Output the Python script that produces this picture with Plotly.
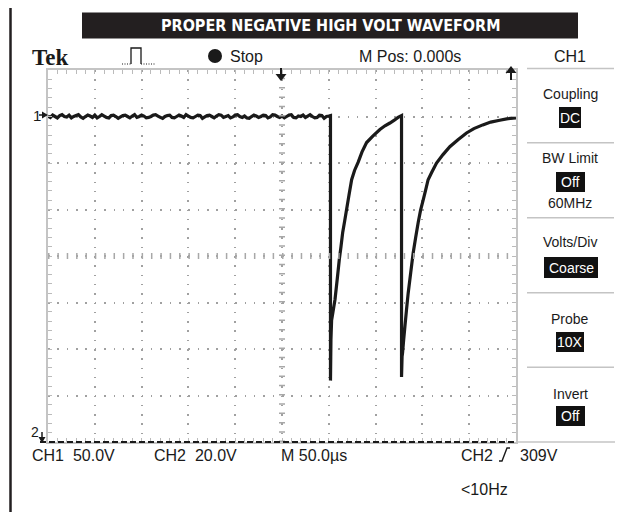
import plotly.graph_objects as go

# ---------------- data (time in µs, CH1 volts) ----------------
t_flat = [-250, -247.5, -245, -242.5, -240, -237.5, -235, -232.5, -230, -227.5,
          -225, -222.5, -220, -217.5, -215, -212.5, -210, -207.5, -205, -202.5,
          -200, -197.5, -195, -192.5, -190, -187.5, -185, -182.5, -180, -177.5,
          -175, -172.5, -170, -167.5, -165, -162.5, -160, -157.5, -155, -152.5,
          -150, -147.5, -145, -142.5, -140, -137.5, -135, -132.5, -130, -127.5,
          -125, -122.5, -120, -117.5, -115, -112.5, -110, -107.5, -105, -102.5,
          -100, -97.5, -95, -92.5, -90, -87.5, -85, -82.5, -80, -77.5,
          -75, -72.5, -70, -67.5, -65, -62.5, -60, -57.5, -55, -52.5,
          -50, -47.5, -45, -42.5, -40, -37.5, -35, -32.5, -30, -27.5,
          -25, -22.5, -20, -17.5, -15, -12.5, -10, -7.5, -5, -2.5,
          0, 2.5, 5, 7.5, 10, 12.5, 15, 17.5, 20, 22.5,
          25, 27.5, 30, 32.5, 35, 37.5, 40, 42.5, 45, 47.5, 50]
v_flat = [0.5, -1, 1.5, 0, -1.5, 1, 2, 0, -0.5, 1.5,
          -1.5, 0, 1, 2, -0.5, -2, 0, 1.5, 0.5, -1,
          1.5, -1.5, 0, 2, 0.5, -1, -1.5, 1, 1.5, 0,
          -2, -0.5, 1, 1.5, 0, -1.5, 0.5, 2, -1, 0,
          1.5, 0.5, -1.5, -1, 0, 1.5, 2, 0.5, -1, -2,
          0, 1, 1.5, -1, -1.5, 0, 1.5, 0.5, -1, 2,
          0.5, -1, -1.5, 0, 1.5, 1, -2, -0.5, 1, 1.5,
          0, -1.5, 0.5, 2, 1.5, -1, 0, 1, -1.5, -0.5,
          1.5, 2, 0, -1, 0.5, -1.5, -2, 0, 1.5, 0.5,
          -1, 0, 1.5, 1, -1.5, -0.5, 2, 1.5, 0, -1,
          0.5, -1.5, 0, 1.5, 2, -1, -1.5, 0.5, 0, 1.5,
          -1, 0.5, 2, 0, -1.5, -1, 1.5, 1, -2, 0, 0.5]
t_pulse = [51.8, 51.8, 52.3, 53.0, 54.5, 56.6, 59, 61.2, 63, 64.8, 67, 69, 71.5, 74.4,
           77.5, 81.4, 85.5, 90.4, 97, 104.6, 110, 115.3, 120, 124, 127.7,
           127.7, 128.3, 128.8, 130, 131.3, 133, 134.8, 137.5, 140.1, 142.8, 145.5,
           148, 150.8, 153.5, 156.1, 160, 165.1, 172, 179.3, 188, 197.1, 205,
           214.5, 223, 232.6, 240, 250]
v_pulse = [1, -284, -240, -219, -210, -197, -175, -154, -140, -125, -112, -100, -85, -68,
           -58, -49, -38, -28, -21, -14, -10, -7, -4, -1, 1,
           -280, -258, -254, -240, -226, -208, -190, -168, -147, -130, -114,
           -101, -90, -79, -68, -60, -50, -41, -32.5, -25, -17.7, -13,
           -9, -6, -4, -2.5, -1.5]

title_text = "PROPER NEGATIVE HIGH VOLT WAVEFORM"
top_labels = ["Tek", "Stop", "M Pos: 0.000s", "CH1"]
bottom_labels = ["CH1  50.0V", "CH2  20.0V", "M 50.0\u00b5s", "CH2", "309V", "<10Hz"]
menu_titles = ["Coupling", "BW Limit", "Volts/Div", "Probe", "Invert"]
menu_values = ["DC", "Off", "Coarse", "10X", "Off"]

# ---------------- geometry helpers (screen pixels; page body has 8px margin) ----------------
W, H = 644, 512
OFF = 8
SL, SR, ST, SB = 48, 516, 70, 442


def X(px):
    return (px - SL) / (SR - SL)


def Y(py):
    return (SB - py) / (SB - ST)


def path(points, close=True):
    s = "M " + " L ".join(f"{X(a):.5f},{Y(b):.5f}" for a, b in points)
    return s + (" Z" if close else "")


INK = "#1a1a1a"
SANS = "Liberation Sans, Arial, sans-serif"
NARROW = "Liberation Sans Narrow, DejaVu Sans Condensed, Arial Narrow, sans-serif"

fig = go.Figure()
fig.add_trace(go.Scatter(x=t_flat + t_pulse, y=v_flat + v_pulse, mode="lines",
                         line=dict(color=INK, width=3.2, simplify=False), hoverinfo="skip"))

axis_common = dict(showticklabels=False, zeroline=False, showline=True,
                   linecolor="#c4c4c4", linewidth=1.5, mirror="allticks",
                   ticks="inside", ticklen=4, tickcolor="#bbbbbb", tickwidth=1,
                   showgrid=True, gridcolor="#a0a0a0", gridwidth=1.5,
                   minor=dict(ticks="inside", ticklen=4, tickcolor="#bbbbbb",
                              tickwidth=1, showgrid=False))
fig.update_xaxes(range=[-250, 250], dtick=50, tick0=0, griddash="1.5px,7.8px",
                 **axis_common)
fig.update_xaxes(minor_dtick=10)
fig.update_yaxes(range=[-350, 50], dtick=50, tick0=0, griddash="1.5px,7.86px",
                 **axis_common)
fig.update_yaxes(minor_dtick=10)

shapes = []
# outer frame
shapes.append(dict(type="rect", xref="paper", yref="paper", x0=X(10.5), x1=X(660),
                   y0=Y(5.5), y1=Y(530), line=dict(color="#231f20", width=2.5)))
# title bar
shapes.append(dict(type="rect", xref="paper", yref="paper", x0=X(82), x1=X(578),
                   y0=Y(12.5), y1=Y(38.5), fillcolor="#231f20", line=dict(width=0)))
# center cross-hair tick lines
shapes.append(dict(type="line", xref="paper", yref="paper", x0=X(282), x1=X(282),
                   y0=0, y1=1, line=dict(color="#a8a8a8", width=6, dash="1.5px,7.8px")))
shapes.append(dict(type="line", xref="paper", yref="paper", x0=0, x1=1,
                   y0=Y(256), y1=Y(256), line=dict(color="#a8a8a8", width=6, dash="1.5px,7.86px")))
# bottom CH2 dashed baseline
shapes.append(dict(type="line", xref="paper", yref="paper", x0=X(40), x1=X(516),
                   y0=Y(442), y1=Y(442), line=dict(color=INK, width=2, dash="6px,3px")))
shapes.append(dict(type="line", xref="paper", yref="paper", x0=X(517), x1=X(615),
                   y0=Y(442), y1=Y(442), line=dict(color="#c4c4c4", width=1.5)))
# right menu separators
for sy in [68.5, 142.7, 217.7, 292.7, 367.3]:
    shapes.append(dict(type="line", xref="paper", yref="paper", x0=X(527), x1=X(614),
                       y0=Y(sy), y1=Y(sy), line=dict(color="#c4c4c4", width=1.5)))
# inverted menu value boxes
boxes = [(559, 107, 581, 128), (556, 172, 585, 192), (544, 257, 598, 278),
         (556, 332, 584, 352), (556, 406, 585, 426)]
for (x0, y0, x1, y1) in boxes:
    shapes.append(dict(type="rect", xref="paper", yref="paper", x0=X(x0), x1=X(x1),
                       y0=Y(y0), y1=Y(y1), fillcolor="#111111", line=dict(width=0)))
# trigger position arrow (down) at centre top
shapes.append(dict(type="line", xref="paper", yref="paper", x0=X(281), x1=X(281),
                   y0=Y(68), y1=Y(76), line=dict(color=INK, width=2)))
shapes.append(dict(type="path", xref="paper", yref="paper",
                   path=path([(275.5, 74), (286.5, 74), (281, 81)]),
                   fillcolor=INK, line=dict(width=0)))
# trigger level arrow (up) at right top
shapes.append(dict(type="line", xref="paper", yref="paper", x0=X(511), x1=X(511),
                   y0=Y(72), y1=Y(80), line=dict(color=INK, width=2)))
shapes.append(dict(type="path", xref="paper", yref="paper",
                   path=path([(505.5, 73), (516.5, 73), (511, 66)]),
                   fillcolor=INK, line=dict(width=0)))
# CH1 ground marker arrow
shapes.append(dict(type="path", xref="paper", yref="paper",
                   path=path([(42, 111.5), (42, 118.5), (48, 115)]),
                   fillcolor=INK, line=dict(width=0)))
shapes.append(dict(type="line", xref="paper", yref="paper", x0=X(39), x1=X(43),
                   y0=Y(115), y1=Y(115), line=dict(color=INK, width=1.5)))
# CH2 marker arrow
shapes.append(dict(type="line", xref="paper", yref="paper", x0=X(42), x1=X(42),
                   y0=Y(432), y1=Y(438), line=dict(color=INK, width=1.5)))
shapes.append(dict(type="path", xref="paper", yref="paper",
                   path=path([(38.5, 437), (45.5, 437), (42, 443)]),
                   fillcolor=INK, line=dict(width=0)))
# acquisition pulse icon
shapes.append(dict(type="path", xref="paper", yref="paper",
                   path=path([(122, 64), (131, 64)], close=False),
                   line=dict(color=INK, width=1.2, dash="1px,1.5px")))
shapes.append(dict(type="path", xref="paper", yref="paper",
                   path=path([(131, 64), (131, 48), (141, 48), (141, 64)], close=False),
                   line=dict(color=INK, width=1.3)))
shapes.append(dict(type="path", xref="paper", yref="paper",
                   path=path([(141, 64), (155, 64)], close=False),
                   line=dict(color=INK, width=1.2, dash="1px,1.5px")))
# stop dot
shapes.append(dict(type="circle", xref="paper", yref="paper", x0=X(208), x1=X(222),
                   y0=Y(49), y1=Y(63), fillcolor=INK, line=dict(width=0)))
# rising-edge trigger slope symbol
shapes.append(dict(type="path", xref="paper", yref="paper",
                   path=path([(499, 461), (502, 461), (507, 448), (510, 448)], close=False),
                   line=dict(color=INK, width=1.4)))

ann = []


def txt(s, px, py, size, color=INK, family=SANS, xanchor="left", bold=False):
    ann.append(dict(text=(f"<b>{s}</b>" if bold else s), x=X(px), y=Y(py),
                    xref="paper", yref="paper", xanchor=xanchor, yanchor="middle",
                    showarrow=False, font=dict(size=size, color=color, family=family)))


txt(title_text, 330, 25.5, 16, color="white", family=NARROW, xanchor="center", bold=True)
txt(top_labels[0], 30, 57, 23, family="Liberation Serif, DejaVu Serif, serif", bold=True)
txt(top_labels[1], 228, 56, 16)
txt(top_labels[2], 357, 56, 16)
txt(top_labels[3], 570, 56, 16, xanchor="center")

txt("1", 31, 115, 15)
txt("2", 29, 432, 14)

txt(bottom_labels[0], 30, 455, 16)
txt(bottom_labels[1], 152, 455, 16)
txt(bottom_labels[2], 279, 455, 16)
txt(bottom_labels[3], 459, 455, 16)
txt(bottom_labels[4], 518, 455, 16)
txt(bottom_labels[5], 459, 489, 16)

menu_title_y = [94, 158, 242, 319, 394]
box_centers = [(570, 117.5), (570.5, 182), (571, 267.5), (570, 342), (570.5, 416)]
for name, yy in zip(menu_titles, menu_title_y):
    txt(name, 570, yy, 14, xanchor="center")
for val, (cx, cy) in zip(menu_values, box_centers):
    txt(val, cx, cy, 14, color="white", xanchor="center")
txt("60MHz", 570, 203, 14, xanchor="center")

fig.update_layout(width=W, height=H,
                  margin=dict(l=SL - OFF, r=W - (SR - OFF), t=ST - OFF, b=H - (SB - OFF), pad=0),
                  plot_bgcolor="white", paper_bgcolor="white", showlegend=False,
                  shapes=shapes, annotations=ann)

fig.write_html("out.html")
